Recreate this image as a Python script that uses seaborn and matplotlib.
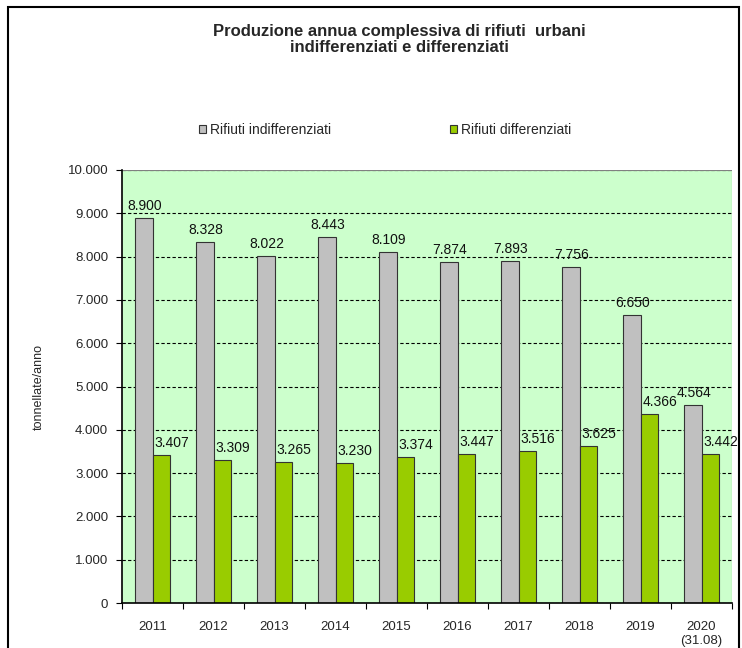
import matplotlib
matplotlib.use("Agg")
import matplotlib.pyplot as plt
import seaborn as sns
import pandas as pd
import numpy as np
from matplotlib.patches import Rectangle

years = ["2011", "2012", "2013", "2014", "2015", "2016", "2017", "2018", "2019", "2020\n(31.08)"]
indifferenziati = [8900, 8328, 8022, 8443, 8109, 7874, 7893, 7756, 6650, 4564]
differenziati = [3407, 3309, 3265, 3230, 3374, 3447, 3516, 3625, 4366, 3442]
series = ["Rifiuti indifferenziati", "Rifiuti differenziati"]
colors = ["#C0C0C0", "#99CC00"]
yticks = [0, 1000, 2000, 3000, 4000, 5000, 6000, 7000, 8000, 9000, 10000]

df = pd.DataFrame({
    "anno": years * 2,
    "valore": indifferenziati + differenziati,
    "serie": [series[0]] * len(years) + [series[1]] * len(years),
})

sns.set_style("white")
plt.rcParams["font.family"] = ["Liberation Sans", "DejaVu Sans"]

fig = plt.figure(figsize=(7.42, 6.48), dpi=100)
ax = fig.add_axes([122 / 742, 45 / 648, 610 / 742, 433 / 648])
ax.set_facecolor("#CCFFCC")

sns.barplot(data=df, x="anno", y="valore", hue="serie", palette=colors,
            width=0.57, edgecolor="#333333", linewidth=0.8, ax=ax, legend=False,
            saturation=1, errorbar=None)

def fmt(v):
    return f"{v:,}".replace(",", ".")

xshift = [1, 11]
for k, cont in enumerate(ax.containers):
    for b in cont:
        v = int(round(b.get_height()))
        ax.annotate(fmt(v), (b.get_x() + b.get_width() / 2, v),
                    xytext=(xshift[k], 5), textcoords="offset pixels",
                    ha="center", va="bottom", fontsize=10, color="#111111")

ax.set_ylim(0, 10000)
ax.set_xlim(-0.5, len(years) - 0.5)
ax.set_yticks(yticks)
ax.set_yticklabels([fmt(v) for v in yticks], fontsize=9.5)
ax.yaxis.grid(True, linestyle=(0, (3, 2)), color="black", linewidth=0.8)
ax.set_axisbelow(True)
ax.tick_params(axis="y", length=4, width=0.8, color="black", left=True, pad=6)
ax.tick_params(axis="x", which="major", length=0, labelsize=9.5, pad=13)
ax.set_xticks(np.arange(-0.5, len(years), 1.0), minor=True)
ax.tick_params(axis="x", which="minor", length=4, width=0.8, color="black", bottom=True)
ax.set_xlabel("")
ax.set_ylabel("tonnellate/anno", fontsize=9)
ax.yaxis.set_label_coords(-0.127, 0.5)

for s in ["top", "right"]:
    ax.spines[s].set_visible(False)
for s in ["left", "bottom"]:
    ax.spines[s].set_color("black")
    ax.spines[s].set_linewidth(1.2)

ax.axhline(10000, color="#808080", linewidth=0.8)
ax.axvline(len(years) - 0.5, color="#808080", linewidth=0.8)

fig.text(0.538, 0.939, "Produzione annua complessiva di rifiuti  urbani\nindifferenziati e differenziati",
         ha="center", va="center", fontsize=12, fontweight="bold", linespacing=1.15)

handles = [Rectangle((0, 0), 1, 1, facecolor=c, edgecolor="#333333", linewidth=0.8) for c in colors]
fig.legend(handles, series, loc="center", bbox_to_anchor=(0.519, 0.799), ncol=2, frameon=False,
           fontsize=10, handlelength=0.5, handleheight=0.5, handletextpad=0.3, columnspacing=8.5)

fig.patches.append(Rectangle((8 / 742, -0.01), 731 / 742, 1 - 7 / 648 + 0.01, transform=fig.transFigure,
                             fill=False, edgecolor="black", linewidth=1.5))

fig.savefig("out.png", dpi=100, facecolor="white")
